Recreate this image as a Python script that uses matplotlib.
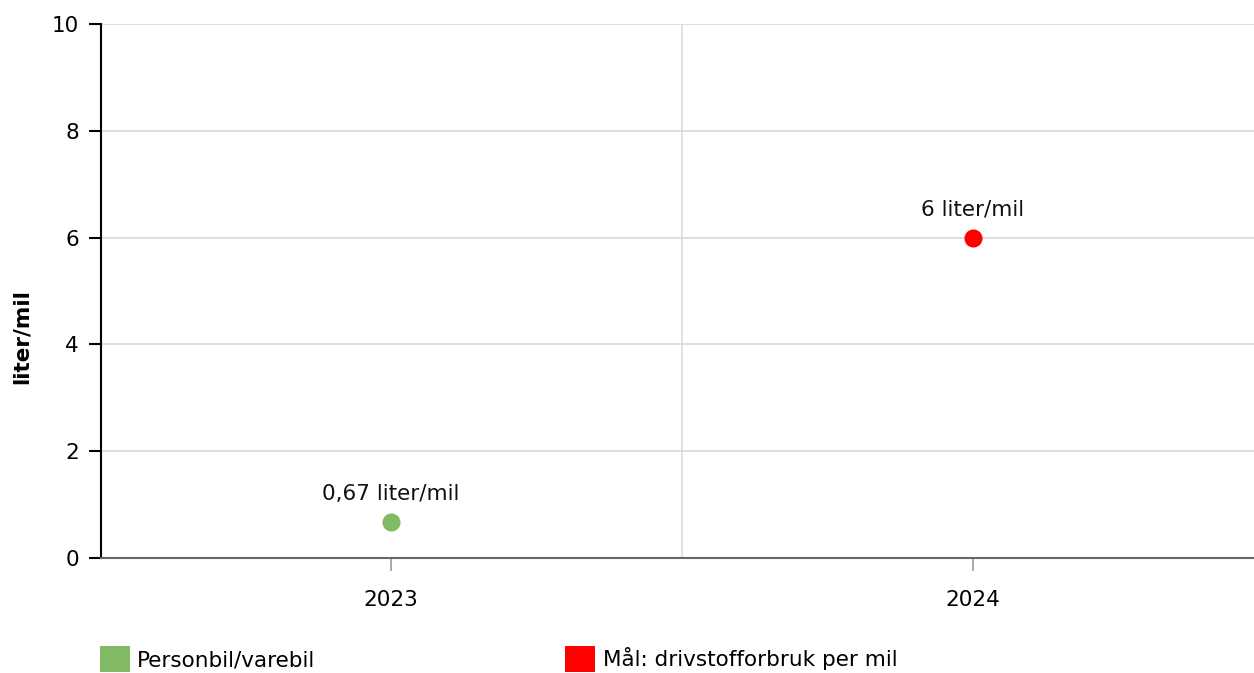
import matplotlib
matplotlib.use("Agg")
import matplotlib.pyplot as plt
from matplotlib.patches import Patch

# data
years = ['2023', '2024']
series_names = ['Personbil/varebil', 'Mål: drivstofforbruk per mil']
series_values = [0.67, 6]
series_colors = ['#82b964', '#ff0000']
value_labels = ['0,67 liter/mil', '6 liter/mil']
y_ticks = [0, 2, 4, 6, 8, 10]

plt.rcParams['font.family'] = ['Verdana', 'DejaVu Sans']

fig = plt.figure(figsize=(12.54, 6.73), dpi=100)
ax = fig.add_axes([101 / 1254, 1 - 558 / 673, 1153 / 1254, 534 / 673])

for i, (val, col, lab) in enumerate(zip(series_values, series_colors, value_labels)):
    ax.plot(i, val, 'o', color=col, markersize=12, zorder=3, clip_on=False)
    ax.annotate(lab, (i, val), xytext=(0, 13), textcoords='offset points',
                ha='center', va='bottom', fontsize=15.5, color='#111111')

ax.set_xlim(-0.498, 1.483)
ax.set_ylim(0, 10)
ax.set_yticks(y_ticks)
ax.set_xticks(range(len(years)))
ax.set_xticklabels(years)

ax.grid(axis='y', color='#d9d9d9', linewidth=1.2, zorder=0)
ax.axvline(0.5, color='#dddddd', linewidth=1.2, zorder=0)

for s in ['top', 'right']:
    ax.spines[s].set_visible(False)
ax.spines['left'].set_color('black')
ax.spines['left'].set_linewidth(1.5)
ax.spines['bottom'].set_color('#666666')
ax.spines['bottom'].set_linewidth(1.5)

ax.tick_params(axis='y', length=9, width=1.5, color='black', labelsize=15.5, pad=7)
ax.tick_params(axis='x', length=9, width=1.2, color='#999999', labelsize=15.5, pad=14)

ax.set_ylabel('liter/mil', fontsize=15.5, fontweight='bold')
ax.yaxis.set_label_coords(32 / 1254, 0.5, transform=fig.transFigure)

handles = [Patch(facecolor=c, edgecolor='none') for c in series_colors]
fig.legend(handles, series_names, loc='lower left', bbox_to_anchor=(0.064, -0.028),
           ncol=2, frameon=False, fontsize=15.5, handlelength=1.4, handleheight=1.55,
           handletextpad=0.35, columnspacing=11.6)

fig.savefig('out.png', dpi=100)
